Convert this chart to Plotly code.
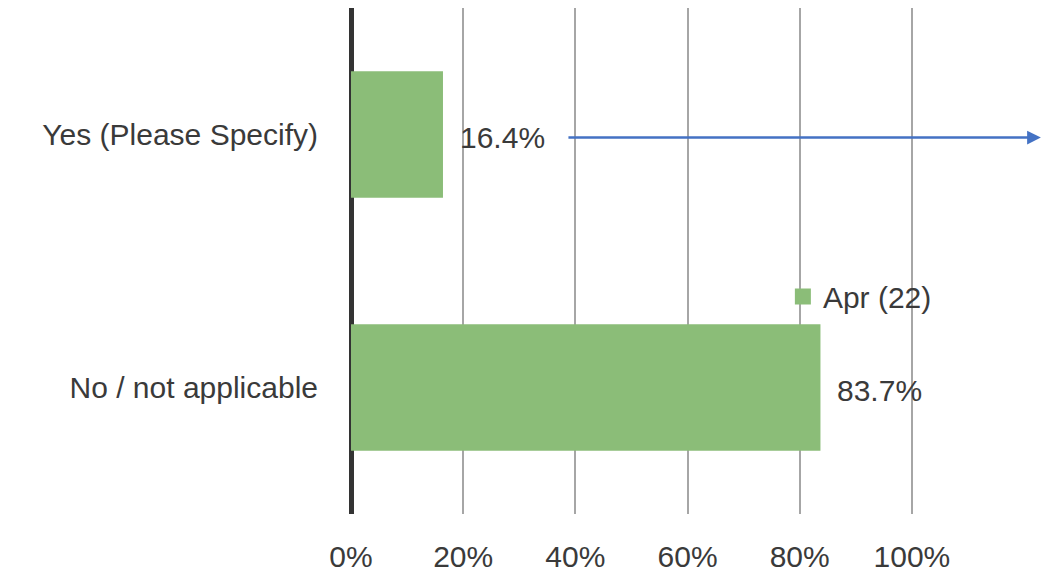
import plotly.graph_objects as go

# Survey responses (share of respondents, %)
categories = ["No / not applicable", "Yes (Please Specify)"]
values = [83.7, 16.4]
series_name = "Apr (22)"
tick_values = [0, 20, 40, 60, 80, 100]
tick_labels = ["0%", "20%", "40%", "60%", "80%", "100%"]

BAR_COLOR = "#8BBD78"
TEXT_COLOR = "#3A3A3A"
FONT = "Liberation Sans, Arial, sans-serif"
SIZE = 30

fig = go.Figure()
fig.add_trace(go.Bar(
    x=values,
    y=categories,
    orientation="h",
    name=series_name,
    marker=dict(color=BAR_COLOR, line=dict(width=0)),
    width=0.5,
    showlegend=False,
))

# Legend entry with a larger square swatch
fig.add_trace(go.Scatter(
    x=[None], y=[None],
    mode="markers",
    name=series_name,
    marker=dict(symbol="square", size=16, color=BAR_COLOR),
    showlegend=True,
))

# Value labels to the right of each bar
for cat, val in zip(categories, values):
    fig.add_annotation(
        x=val, y=cat, xref="x", yref="y",
        text=f"{val:.1f}%",
        showarrow=False,
        xanchor="left", yanchor="middle",
        xshift=15, yshift=-3,
        font=dict(family=FONT, size=SIZE, color=TEXT_COLOR),
    )

# Leader arrow running from the "Yes" label to the right edge
fig.add_annotation(
    x=123.0, y=categories[1], xref="x", yref="y",
    ax=38.5, ay=categories[1], axref="x", ayref="y",
    yshift=-3,
    text="",
    showarrow=True,
    arrowhead=2, arrowsize=1.1, arrowwidth=2.5,
    arrowcolor="#4472C4",
)

fig.update_layout(
    width=1042, height=578,
    margin=dict(l=351, r=0, t=8, b=64),
    paper_bgcolor="white",
    plot_bgcolor="white",
    font=dict(family=FONT, size=SIZE, color=TEXT_COLOR),
    legend=dict(
        x=0.625, y=0.43, xanchor="left", yanchor="middle",
        bgcolor="rgba(0,0,0,0)",
        font=dict(family=FONT, size=SIZE, color=TEXT_COLOR),
        itemwidth=30,
    ),
    xaxis=dict(
        range=[0, 123.2],
        tickvals=tick_values,
        ticktext=tick_labels,
        showgrid=True, gridcolor="#A6A6A6", gridwidth=2,
        zeroline=True, zerolinecolor="#333333", zerolinewidth=5,
        showline=False,
        ticks="",
        ticklabelstandoff=22,
        tickfont=dict(family=FONT, size=SIZE, color=TEXT_COLOR),
        fixedrange=True,
    ),
    yaxis=dict(
        type="category",
        categoryorder="array",
        categoryarray=categories,
        range=[-0.5, 1.5],
        showgrid=False,
        zeroline=False,
        showline=False,
        ticks="",
        ticklabelstandoff=32,
        tickfont=dict(family=FONT, size=SIZE, color=TEXT_COLOR),
        fixedrange=True,
    ),
)

fig.write_html("out.html")
